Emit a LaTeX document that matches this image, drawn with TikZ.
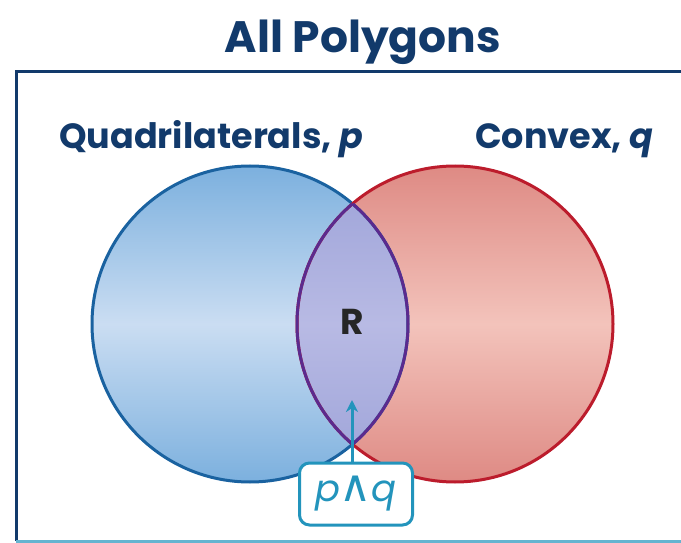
\documentclass[tikz,border=0pt]{standalone}
\usepackage{fontspec}
\setmainfont{Poppins}
\newfontfamily\symfont{DejaVu Sans}
\usetikzlibrary{arrows.meta}

\definecolor{navy}{HTML}{123A6B}
\definecolor{qblue}{HTML}{1A62A0}
\definecolor{cred}{HTML}{BC1C2C}
\definecolor{lenspurple}{HTML}{5B2A8E}
\definecolor{teal2}{HTML}{2394BC}
\definecolor{blueout}{HTML}{7CB0DE}
\definecolor{bluein}{HTML}{CADDF2}
\definecolor{redout}{HTML}{DE8A84}
\definecolor{redin}{HTML}{F3C3BB}
\definecolor{lensout}{HTML}{9CA2D8}
\definecolor{lensin}{HTML}{B8BAE4}

\begin{document}
\begin{tikzpicture}[x=1pt,y=-1pt,
        label/.style={text=navy, font=\bfseries\fontsize{35}{35}\selectfont, anchor=base},
        setline/.style={line width=3pt}]
            \useasboundingbox (0,0) rectangle (681,543);
            % Rahmen:
            \draw[navy, line width=3pt] (16,541) -- (16,72) -- (690,72);
            \draw[teal2!70, line width=3pt] (16,541) -- (690,541);
            \node[label, font=\bfseries\fontsize{44}{44}\selectfont] (title) at (363,53) {All Polygons};
            % Mengen:
            \node[label] (quad) at (211,149) {Quadrilaterals, \textit{p}};
            \node[label] (conv) at (564,149) {Convex, \textit{q}};
            % Kreise:
            \shade[top color=blueout, bottom color=blueout, middle color=bluein]
                (250,324) circle[radius=158];
            \shade[top color=redout, bottom color=redout, middle color=redin]
                (455,324) circle[radius=158];
            % Schnittmenge:
            \begin{scope}
                \clip (250,324) circle[radius=158];
                \shade[top color=lensout, bottom color=lensout, middle color=lensin]
                    (455,324) circle[radius=158];
            \end{scope}
            \draw[setline, qblue] (250,324) circle[radius=158];
            \draw[setline, cred] (455,324) circle[radius=158];
            \begin{scope}
                \clip (455,324) circle[radius=158];
                \draw[setline, lenspurple] (250,324) circle[radius=158];
            \end{scope}
            \begin{scope}
                \clip (250,324) circle[radius=158];
                \draw[setline, lenspurple] (455,324) circle[radius=158];
            \end{scope}
            \node[font=\bfseries\fontsize{36}{36}\selectfont, text=black!85] (R) at (352,322) {R};
            % Pfeil:
            \node[draw=teal2, line width=3pt, rounded corners=10pt, fill=white, text=teal2,
                minimum width=113pt, minimum height=62pt, inner sep=0pt,
                font=\fontsize{37}{37}\selectfont] (pq) at (356,494)
                {\textit{p}\kern-1pt{\symfont\fontsize{44}{44}\selectfont ∧}\kern-1pt\textit{q}};
            \coordinate (tip) at (352,400);
            \draw[teal2, line width=3pt, -{Stealth[length=12pt,width=12pt]}] (pq.north -| tip) -- (tip);
\end{tikzpicture}
\end{document}
